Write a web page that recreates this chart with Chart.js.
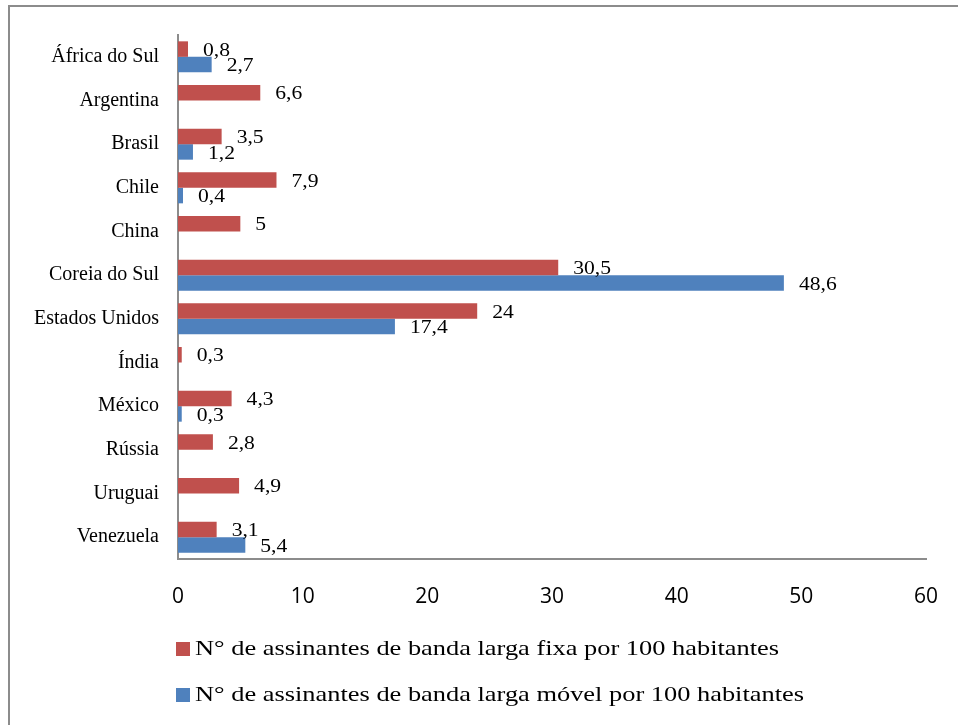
<!DOCTYPE html>
<html>
<head>
<meta charset="utf-8">
<script src="https://cdn.jsdelivr.net/npm/chart.js@4"></script>
<style>
  html, body { margin: 0; padding: 0; background: #fff; }
  #wrap { width: 958px; height: 725px; }
</style>
</head>
<body>
<div id="wrap"><canvas id="bandaCanvas" width="958" height="725"></canvas></div>
<script>
const paises = ["África do Sul", "Argentina", "Brasil", "Chile", "China", "Coreia do Sul",
  "Estados Unidos", "Índia", "México", "Rússia", "Uruguai", "Venezuela"];

const fixa = [0.8, 6.6, 3.5, 7.9, 5, 30.5, 24, 0.3, 4.3, 2.8, 4.9, 3.1];
const movel = [2.7, null, 1.2, 0.4, null, 48.6, 17.4, null, 0.3, null, null, 5.4];

const fixaLabel = "N° de assinantes de banda larga fixa por 100 habitantes";
const movelLabel = "N° de assinantes de banda larga móvel por 100 habitantes";

const xTicks = [0, 10, 20, 30, 40, 50, 60];

// outer frame (top + left line) like the pasted excel picture
const framePlugin = {
  id: "frame",
  beforeDraw(chart) {
    const ctx = chart.ctx;
    ctx.save();
    ctx.strokeStyle = "#8c8c8c";
    ctx.lineWidth = 2;
    ctx.beginPath();
    ctx.moveTo(9, 725);
    ctx.lineTo(9, 6);
    ctx.lineTo(958, 6);
    ctx.stroke();
    ctx.restore();
  }
};

// value labels to the right of each bar, comma decimals
const valuePlugin = {
  id: "values",
  afterDatasetsDraw(chart) {
    const ctx = chart.ctx;
    ctx.save();
    ctx.fillStyle = "#000";
    ctx.font = "18px 'Liberation Serif', 'Times New Roman', serif";
    ctx.textAlign = "left";
    ctx.textBaseline = "middle";
    chart.data.datasets.forEach((ds, i) => {
      const meta = chart.getDatasetMeta(i);
      meta.data.forEach((bar, j) => {
        const v = ds.data[j];
        if (v === null || v === undefined) return;
        ctx.save();
        ctx.translate(bar.x + 15, bar.y + 2);
        ctx.scale(1.2, 1);
        ctx.fillText(String(v).replace(".", ","), 0, 0);
        ctx.restore();
      });
    });
    ctx.restore();
  }
};

// legend stacked under the axis, left aligned
const legendPlugin = {
  id: "stackLegend",
  afterDraw(chart) {
    const ctx = chart.ctx;
    ctx.save();
    ctx.font = "22px 'Liberation Serif', 'Times New Roman', serif";
    ctx.textBaseline = "middle";
    ctx.textAlign = "left";
    chart.data.datasets.forEach((ds, i) => {
      const y = 649 + i * 46;
      ctx.fillStyle = ds.backgroundColor;
      ctx.fillRect(176, y - 7, 14, 14);
      ctx.fillStyle = "#000";
      ctx.save();
      ctx.translate(195, y);
      ctx.scale(1.2, 1);
      ctx.fillText(ds.label, 0, 0);
      ctx.restore();
    });
    ctx.restore();
  }
};

new Chart(document.getElementById("bandaCanvas"), {
  type: "bar",
  data: {
    labels: paises,
    datasets: [
      { label: fixaLabel, data: fixa, backgroundColor: "#C0504D" },
      { label: movelLabel, data: movel, backgroundColor: "#4F81BD" }
    ]
  },
  options: {
    indexAxis: "y",
    responsive: false,
    animation: false,
    events: [],
    datasets: { bar: { categoryPercentage: 0.71, barPercentage: 1 } },
    layout: { padding: { left: 0, top: 35, right: 32, bottom: 106 } },
    plugins: {
      legend: { display: false },
      tooltip: { enabled: false }
    },
    scales: {
      x: {
        min: 0,
        max: 60,
        afterFit(scale) { scale.height = 60; },
        afterBuildTicks(scale) { scale.ticks = xTicks.map(v => ({ value: v })); },
        // invisible tick length pushes the labels down without widening the side padding
        grid: { display: false, drawTicks: true, tickLength: 25 },
        border: { display: true, color: "#8c8c8c", width: 2 },
        ticks: {
          color: "#000",
          padding: 0,
          font: { family: "'Open Sans', sans-serif", size: 21 }
        }
      },
      y: {
        afterFit(scale) { scale.width = 178; },
        grid: { display: false, drawTicks: false },
        border: { display: true, color: "#8c8c8c", width: 2 },
        ticks: {
          color: "#000",
          padding: 19,
          font: { family: "'Liberation Serif', 'Times New Roman', serif", size: 20 }
        }
      }
    }
  },
  plugins: [framePlugin, valuePlugin, legendPlugin]
});
</script>
</body>
</html>
